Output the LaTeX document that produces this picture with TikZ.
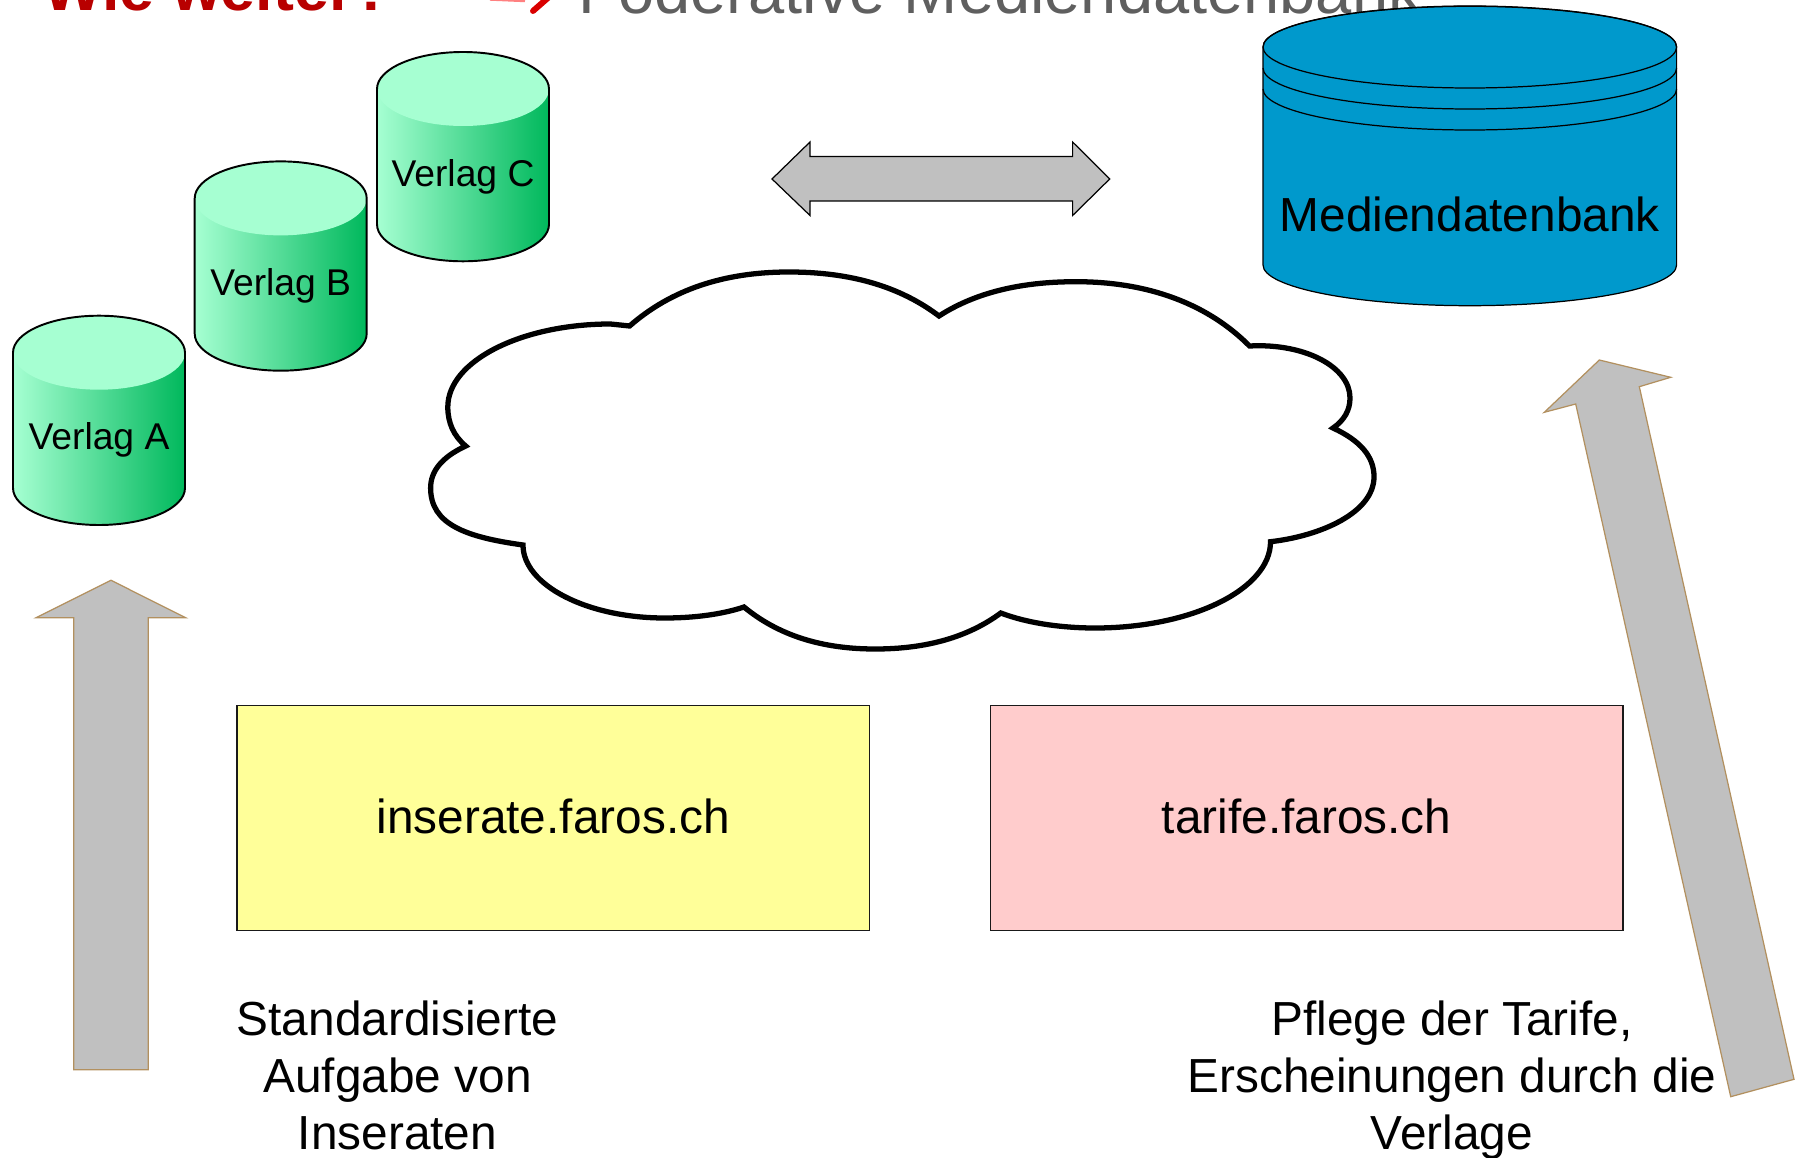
\documentclass[tikz,border=0pt]{standalone}
\usepackage{fontspec}
\usepackage{xcolor}
\setmainfont{Liberation Sans}
\usetikzlibrary{positioning}
\definecolor{capgreen}{HTML}{A6FFD2}
\definecolor{darkgreen}{HTML}{00B85C}
\definecolor{dbblue}{HTML}{0099CC}
\definecolor{arrowgray}{HTML}{C0C0C0}
\definecolor{arrowtan}{HTML}{B2905F}
\definecolor{titlered}{HTML}{B80000}
\definecolor{titlegray}{HTML}{5F5F5F}
\definecolor{boxyellow}{HTML}{FFFF99}
\definecolor{boxpink}{HTML}{FFCCCC}
\tikzset{
  bigtext/.style={font=\fontsize{13.6}{16.2}\selectfont},
  verlagtext/.style={font=\fontsize{10.6}{12.6}\selectfont, anchor=base},
  sitebox/.style={draw=black!90, line width=0.4pt, anchor=south west, minimum width=6.325cm, minimum height=2.247cm, bigtext},
  upfill/.style={draw=arrowtan, line width=0.35pt, fill=arrowgray},
}
\begin{document}
\begin{tikzpicture}
\useasboundingbox (0,0) rectangle (17.96,11.57);
% Title, cut off at the top edge
\node[anchor=base west, inner sep=0pt, text=titlered, font=\fontsize{17.85}{21}\bfseries\selectfont] (titleleft) at (0.43,11.46) {Wie weiter?};
\draw[red!50, line width=0.7pt] (4.90,11.575) -- (5.25,11.56);
\draw[red!85!black, line width=1.7pt, line cap=round] (5.49,11.60) -- (5.33,11.46);
\node[anchor=base west, inner sep=0pt, text=titlegray, font=\fontsize{18.5}{22}\selectfont] (titleright) at (5.78,11.435) {Föderative Mediendatenbank};
% Small databases
\foreach \id/\x/\y in {A/0.13/8.043, B/1.947/9.586, C/3.77/10.68} {
  \path[left color=capgreen, right color=darkgreen] (\x,\y) -- ++(0,-1.353) arc (180:360:0.86 and 0.37) -- ++(0,1.353) arc (0:180:0.86 and 0.37);
  \fill[capgreen] (\x+0.86,\y) ellipse (0.86 and 0.37);
  \draw[line width=0.55pt] (\x,\y) -- ++(0,-1.353) arc (180:360:0.86 and 0.37) -- ++(0,1.353) arc (0:180:0.86 and 0.37);
  \node[verlagtext] (verlag\id) at (\x+0.86,\y-0.973) {Verlag \id};
}
% Large database
\draw[line width=0.35pt, fill=dbblue] (12.63,11.10) -- (12.63,8.92) arc (180:360:2.068 and 0.407) -- (16.766,11.10) arc (0:180:2.068 and 0.407);
\draw[line width=0.35pt] (14.698,11.10) ellipse (2.068 and 0.41);
\draw[line width=0.35pt] (12.63,10.89) arc (180:360:2.068 and 0.41);
\draw[line width=0.35pt] (12.63,10.68) arc (180:360:2.068 and 0.41);
\node[bigtext, anchor=base] (mediendb) at (14.698,9.253) {Mediendatenbank};
% Double arrow between the databases
\draw[line width=0.35pt, fill=arrowgray] (7.72,9.78) -- (8.10,10.15) -- (8.10,10.005) -- (10.726,10.005) -- (10.726,10.15) -- (11.097,9.78) -- (10.726,9.415) -- (10.726,9.56) -- (8.10,9.56) -- (8.10,9.415) -- cycle;
% Cloud
\draw[line width=1.5pt, fill=white] (6.296,8.31)
  .. controls (6.71,8.672) and (7.236,8.85) .. (7.89,8.85)
  .. controls (8.505,8.85) and (9.0,8.705) .. (9.39,8.41)
  .. controls (9.746,8.64) and (10.198,8.753) .. (10.76,8.753)
  .. controls (11.489,8.753) and (12.079,8.528) .. (12.495,8.11)
  .. controls (13.05,8.14) and (13.50,7.90) .. (13.50,7.59)
  .. controls (13.50,7.47) and (13.444,7.368) .. (13.33,7.29)
  .. controls (13.605,7.163) and (13.74,7.003) .. (13.74,6.803)
  .. controls (13.74,6.443) and (13.205,6.21) .. (12.705,6.153)
  .. controls (12.705,5.68) and (11.92,5.29) .. (10.95,5.29)
  .. controls (10.597,5.29) and (10.258,5.344) .. (10.008,5.44)
  .. controls (9.681,5.199) and (9.266,5.08) .. (8.75,5.08)
  .. controls (8.213,5.08) and (7.781,5.219) .. (7.44,5.50)
  .. controls (7.226,5.428) and (6.947,5.39) .. (6.647,5.39)
  .. controls (5.867,5.39) and (5.23,5.72) .. (5.23,6.12)
  .. controls (4.65,6.20) and (4.306,6.33) .. (4.306,6.69)
  .. controls (4.306,6.862) and (4.422,7.0) .. (4.657,7.11)
  .. controls (4.537,7.211) and (4.478,7.34) .. (4.478,7.50)
  .. controls (4.478,7.96) and (5.215,8.33) .. (6.105,8.33)
  -- cycle;
% Site boxes
\node[sitebox, fill=boxyellow] (inserate) at (2.362,2.26) {\raisebox{0.034cm}{inserate.faros.ch}};
\node[sitebox, fill=boxpink] (tarife) at (9.897,2.26) {\raisebox{0.034cm}{tarife.faros.ch}};
% Upward arrows
\draw[upfill] (1.11,5.767) -- (1.857,5.393) -- (1.483,5.393) -- (1.483,0.873) -- (0.737,0.873) -- (0.737,5.393) -- (0.36,5.393) -- cycle;
\draw[upfill] (15.993,7.97) -- (16.707,7.797) -- (16.393,7.703) -- (17.94,0.777) -- (17.307,0.603) -- (15.757,7.53) -- (15.443,7.447) -- cycle;
% Captions
\node[bigtext, align=center, anchor=base] (aufgabe) at (3.975,0.075) {Standardisierte\\Aufgabe von\\Inseraten};
\node[bigtext, align=center, anchor=base] (pflege) at (14.52,0.08) {Pflege der Tarife,\\Erscheinungen durch die\\Verlage};
\end{tikzpicture}
\end{document}
